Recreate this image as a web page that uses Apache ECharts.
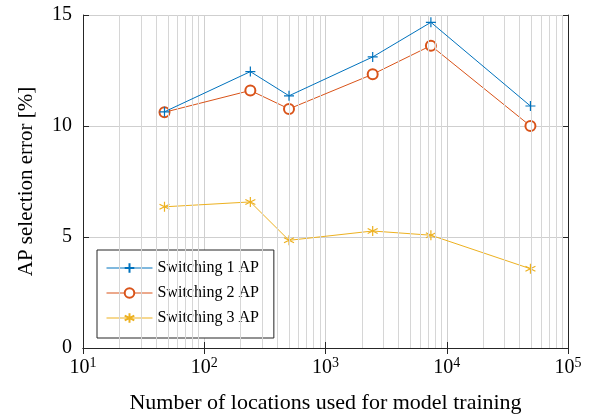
<!DOCTYPE html>
<html>
<head>
<meta charset="utf-8">
<script src="https://cdn.jsdelivr.net/npm/echarts@6/dist/echarts.min.js"></script>
<style>html,body{margin:0;padding:0;background:#fff}#c{width:589px;height:415px}</style>
</head>
<body>
<div id="c"></div>
<script>
const locations = [47, 240, 500, 2450, 7400, 49000];
const switching1 = [10.64, 12.45, 11.36, 13.11, 14.67, 10.9];
const switching2 = [10.62, 11.6, 10.77, 12.33, 13.62, 10.0];
const switching3 = [6.36, 6.58, 4.85, 5.27, 5.08, 3.57];
const seriesNames = ['Switching 1 AP', 'Switching 2 AP', 'Switching 3 AP'];
const yTicks = [0, 5, 10, 15];
const xMin = 10, xMax = 100000;
const minorGrid = [];
for (let d = 10; d < xMax; d *= 10) {
  for (let k = 2; k <= 9; k++) minorGrid.push(k * d);
}
const font = 'Liberation Serif';
const colors = ['#0072BD', '#D95319', '#EDB120'];
const plusPath = 'path://M5,0 L5,10 M0,5 L10,5';
const starPath = 'path://M5,0 L5,10 M0.67,2.5 L9.33,7.5 M0.67,7.5 L9.33,2.5';

function pairs(ys) { return locations.map((x, i) => [x, ys[i]]); }

const chart = echarts.init(document.getElementById('c'), null, {renderer: 'canvas'});
const axisLineStyle = {color: '#262626', width: 1};
chart.setOption({
  animation: false,
  backgroundColor: '#fff',
  grid: {left: 83, right: 21, top: 15, bottom: 67, containLabel: false, outerBoundsMode: 'none'},
  legend: {
    orient: 'vertical', left: 97, top: 250,
    padding: [10, 15, 12, 9], itemGap: 9,
    backgroundColor: '#fff', borderColor: '#262626', borderWidth: 1, borderRadius: 0,
    itemWidth: 46, itemHeight: 12,
    lineStyle: {width: 1},
    textStyle: {fontFamily: font, fontSize: 16, color: '#000'},
    data: seriesNames
  },
  xAxis: [{
    type: 'log', logBase: 10, min: xMin, max: xMax,
    name: 'Number of locations used for model training',
    nameLocation: 'middle', nameGap: 44,
    nameTextStyle: {fontFamily: font, fontSize: 22, color: '#000'},
    axisLine: {lineStyle: axisLineStyle},
    axisTick: {inside: true, length: 6, lineStyle: axisLineStyle},
    splitLine: {show: true, lineStyle: {color: '#cfcfcf', width: 1}},
    axisLabel: {
      margin: 8,
      formatter: function (v) { return '{b|10}{s|' + Math.round(Math.log10(v)) + '}'; },
      rich: {
        b: {fontFamily: font, fontSize: 20, color: '#000'},
        s: {fontFamily: font, fontSize: 14, color: '#000', verticalAlign: 'top', padding: [0, 0, 9, 0]}
      }
    }
  }, {
    type: 'log', logBase: 10, min: xMin, max: xMax, position: 'top',
    axisLine: {show: true, lineStyle: axisLineStyle},
    axisTick: {show: true, inside: true, length: 6, lineStyle: axisLineStyle},
    axisLabel: {show: false}, splitLine: {show: false}
  }],
  yAxis: [{
    type: 'value', min: yTicks[0], max: yTicks[yTicks.length - 1], interval: 5,
    name: 'AP selection error [%]', nameLocation: 'middle', nameGap: 46,
    nameTextStyle: {fontFamily: font, fontSize: 21, color: '#000'},
    axisLine: {show: true, lineStyle: axisLineStyle},
    axisTick: {show: true, inside: true, length: 6, lineStyle: axisLineStyle},
    splitLine: {show: true, lineStyle: {color: '#cfcfcf', width: 1}},
    axisLabel: {fontFamily: font, fontSize: 20, color: '#000', margin: 11}
  }, {
    type: 'value', min: yTicks[0], max: yTicks[yTicks.length - 1], interval: 5, position: 'right',
    axisLine: {show: true, lineStyle: axisLineStyle},
    axisTick: {show: true, inside: true, length: 6, lineStyle: axisLineStyle},
    axisLabel: {show: false}, splitLine: {show: false}
  }],
  series: [{
    name: 'minor', type: 'line', data: [], silent: true,
    markLine: {
      silent: true, symbol: ['none', 'none'], label: {show: false},
      lineStyle: {color: '#d6d6d6', width: 1, type: 'solid'},
      emphasis: {disabled: true},
      data: minorGrid.map(v => ({xAxis: v}))
    }
  }, {
    name: seriesNames[0], type: 'line', data: pairs(switching1),
    symbol: plusPath, symbolSize: 10, showAllSymbol: true,
    lineStyle: {color: colors[0], width: 1},
    itemStyle: {color: colors[0], borderColor: colors[0], borderWidth: 1.2},
    z: 5
  }, {
    name: seriesNames[1], type: 'line', data: pairs(switching2),
    symbol: 'emptyCircle', symbolSize: 10,
    lineStyle: {color: colors[1], width: 1},
    itemStyle: {color: colors[1], borderColor: colors[1], borderWidth: 1.2},
    z: 4
  }, {
    name: seriesNames[2], type: 'line', data: pairs(switching3),
    symbol: starPath, symbolSize: 10,
    lineStyle: {color: colors[2], width: 1},
    itemStyle: {color: colors[2], borderColor: colors[2], borderWidth: 1.2},
    z: 3
  }]
});
</script>
</body>
</html>
